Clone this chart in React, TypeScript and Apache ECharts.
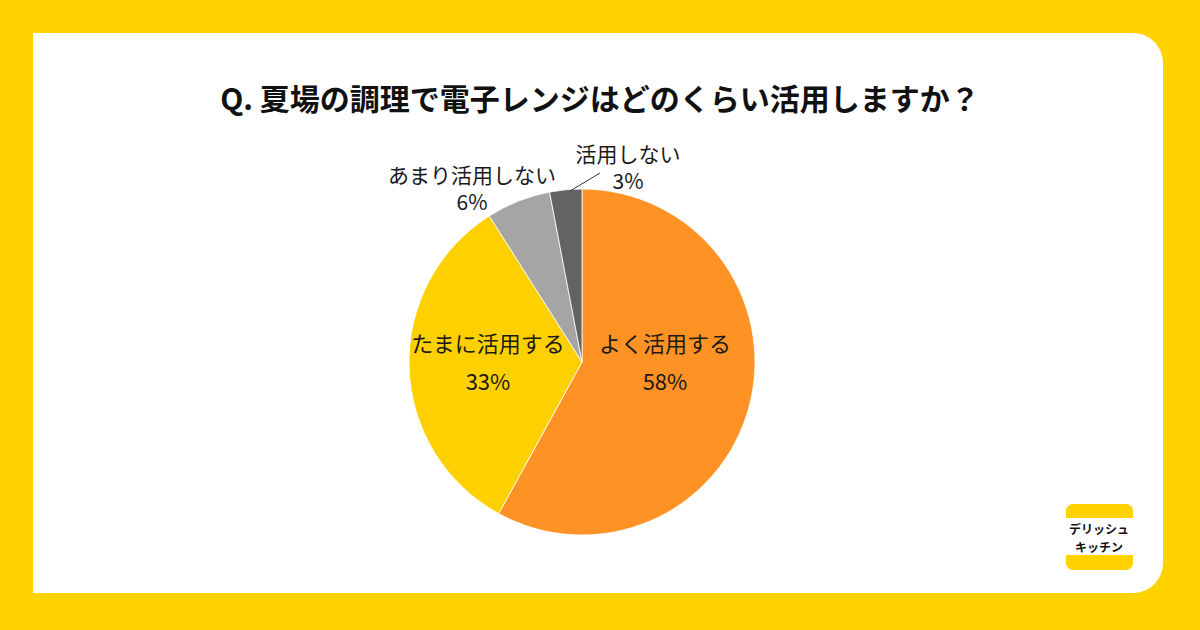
import React, { useEffect, useRef } from "react";
import * as echarts from "echarts";

// Survey answers and their shares (%)
const categories = ["よく活用する", "たまに活用する", "あまり活用しない", "活用しない"];
const shares = [58, 33, 6, 3];
const sliceColors = ["#FF9224", "#FFD000", "#A5A5A5", "#636363"];

const titleText = "Q. 夏場の調理で電子レンジはどのくらい活用しますか？";
const logoLines = ["デリッシュ", "キッチン"];

// Where each slice's label sits, its size and line spacing
const labelSpots: [number, number][] = [
  [665, 361],
  [488, 361],
  [472, 187],
  [628, 166],
];
const labelFontSizes = [22, 22, 21, 21];
const labelLineHeights = [38, 38, 27, 27];

const FONT = '"Noto Sans CJK JP", "Noto Sans", sans-serif';

export default function App() {
  const ref = useRef<HTMLDivElement>(null);

  useEffect(() => {
    document.body.style.margin = "0";
    if (!ref.current) return;
    const chart = echarts.init(ref.current, null, { renderer: "svg" });

    chart.setOption({
      animation: false,
      backgroundColor: "#FFD200",
      graphic: [
        {
          type: "rect",
          z: -10,
          shape: { x: 33, y: 33, width: 1130, height: 560, r: [0, 30, 30, 0] },
          style: { fill: "#FFFFFF" },
        },
        {
          type: "text",
          x: 600,
          y: 97,
          style: {
            text: titleText,
            fontFamily: FONT,
            fontSize: 30,
            fontWeight: "bold",
            fill: "#111111",
            align: "center",
            verticalAlign: "middle",
          },
        },
        // leader from the smallest slice to its label
        {
          type: "line",
          z: 10,
          shape: { x1: 570, y1: 191, x2: 600, y2: 173 },
          style: { stroke: "#333333", lineWidth: 1 },
        },
        {
          type: "group",
          children: [
            {
              type: "rect",
              shape: { x: 1066, y: 504, width: 67, height: 66, r: 7 },
              style: { fill: "#FFD200" },
            },
            {
              type: "rect",
              shape: { x: 1066, y: 518, width: 67, height: 37 },
              style: { fill: "#FFFFFF" },
            },
            {
              type: "text",
              x: 1099,
              y: 528,
              style: {
                text: logoLines[0],
                fontFamily: FONT,
                fontSize: 12,
                fontWeight: "bold",
                fill: "#111111",
                align: "center",
                verticalAlign: "middle",
              },
            },
            {
              type: "text",
              x: 1099,
              y: 546,
              style: {
                text: logoLines[1],
                fontFamily: FONT,
                fontSize: 12,
                fontWeight: "bold",
                fill: "#111111",
                align: "center",
                verticalAlign: "middle",
              },
            },
          ],
        },
      ],
      series: [
        {
          type: "pie",
          center: [582, 362],
          radius: 173,
          startAngle: 90,
          clockwise: true,
          silent: true,
          itemStyle: { borderColor: "#FFFFFF", borderWidth: 0.8 },
          label: {
            show: true,
            position: "inside",
            formatter: "{b}\n{c}%",
            fontFamily: FONT,
            fontSize: 22,
            color: "#1A1A1A",
          },
          labelLine: { show: false },
          labelLayout: (params: any) => {
            const [x, y] = labelSpots[params.dataIndex];
            return { x, y, align: "center", verticalAlign: "middle" };
          },
          data: categories.map((name, i) => ({
            name,
            value: shares[i],
            itemStyle: { color: sliceColors[i] },
            label: { fontSize: labelFontSizes[i], lineHeight: labelLineHeights[i] },
          })),
        },
      ],
    });

    return () => chart.dispose();
  }, []);

  return <div ref={ref} style={{ width: 1200, height: 630 }} />;
}
